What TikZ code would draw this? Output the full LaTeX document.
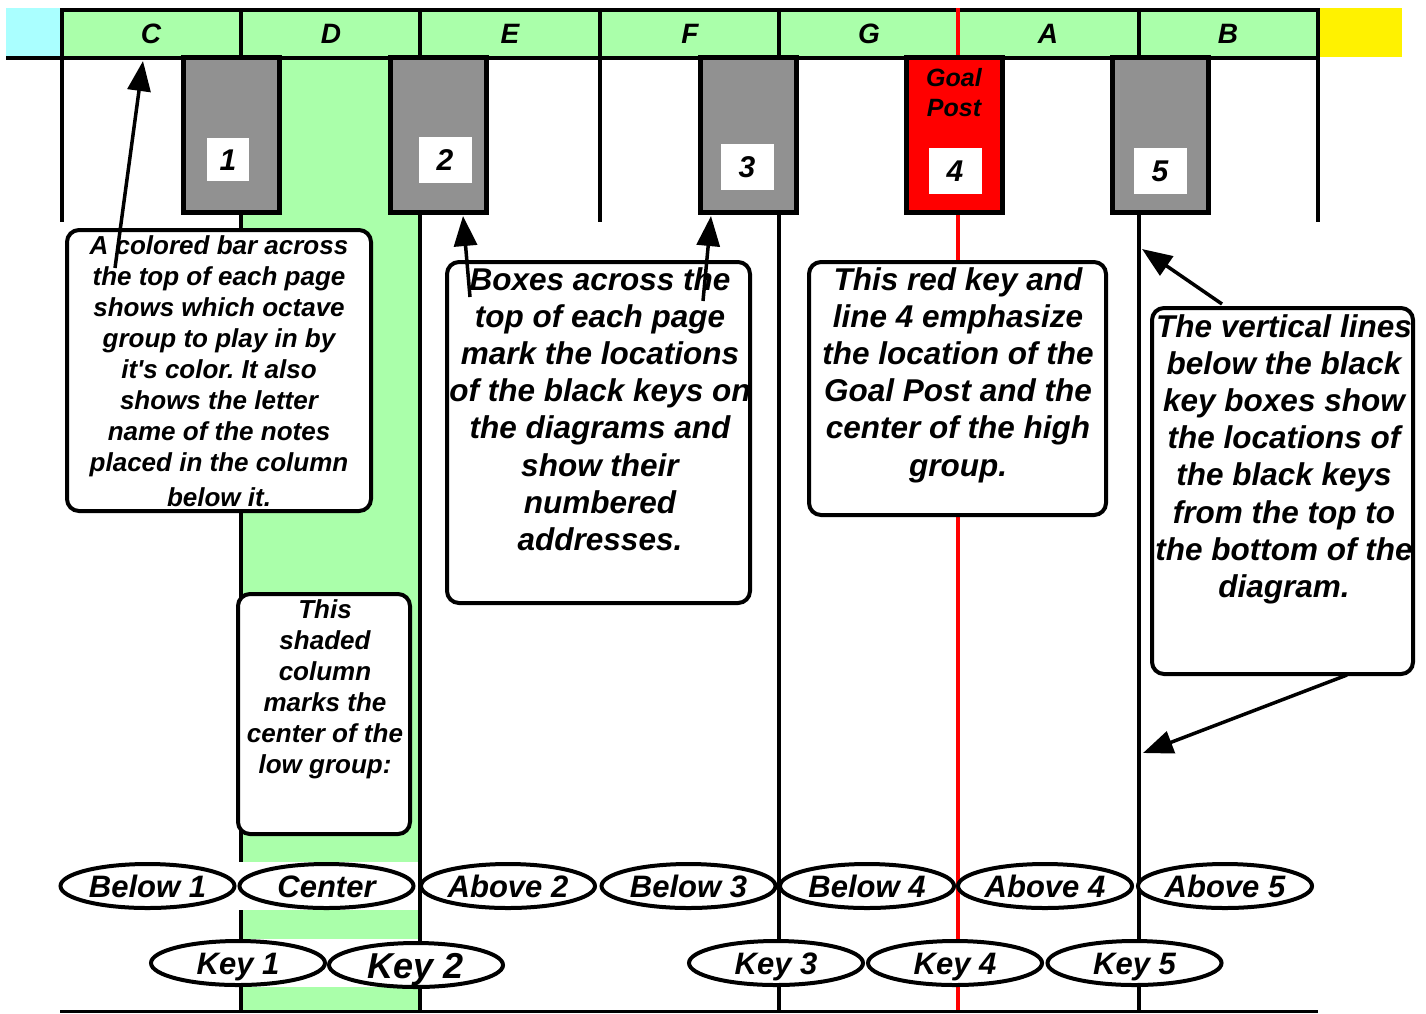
\documentclass[tikz,border=0pt]{standalone}
\usepackage{fontspec}
\setmainfont{Liberation Sans}
\usetikzlibrary{arrows.meta,shapes.geometric}
\definecolor{lgreen}{HTML}{AAFFAA}
\definecolor{lcyan}{HTML}{AAFFFF}
\definecolor{kgray}{HTML}{919191}
\frenchspacing
\begin{document}
\begin{tikzpicture}[x=1pt,y=-1pt,
  every node/.style={font=\bfseries\itshape},
  vline/.style={line width=4pt},
  hdr/.style={font=\fontsize{28}{32}\selectfont\bfseries\itshape, text height=20pt, text depth=0pt},
  keybox/.style={draw, line width=5pt, fill=kgray, minimum width=96pt, minimum height=155pt, inner sep=0pt},
  numbox/.style={fill=white, inner sep=0pt, text height=21.5pt, text depth=0pt, font=\fontsize{30}{34}\selectfont\bfseries\itshape},
  tbox/.style={draw, line width=4pt, fill=white, rounded corners=12pt, inner sep=0pt},
  smalltxt/.style={align=center, anchor=north, inner sep=0pt, font=\fontsize{26}{31}\selectfont\bfseries\itshape},
  bigtxt/.style={align=center, anchor=north, inner sep=0pt, font=\fontsize{31.5}{37.2}\selectfont\bfseries\itshape},
  ell/.style={ellipse, draw, line width=4pt, fill=white, minimum width=174pt, minimum height=44pt, inner sep=0pt, text height=22.3pt, text depth=0pt, font=\fontsize{31}{34}\selectfont\bfseries\itshape},
  arr/.style={line width=3.5pt, -{Triangle[length=30pt,width=23pt]}}
]
\useasboundingbox (0,0) rectangle (1426,1013);
% shaded column
\fill[lgreen] (241,58) rectangle (420,1011);
% header
\fill[lcyan] (6,8) rectangle (61,57);
\fill[yellow] (1320,8) rectangle (1402,57);
\draw[line width=4pt, fill=lgreen] (62,10) rectangle (1318,58);
\draw[line width=4pt] (6,58) -- (1318,58);
\node[hdr] (hc) at (151,33) {C};
\node[hdr] (hd) at (331,33) {D};
\node[hdr] (he) at (510,33) {E};
\node[hdr] (hf) at (690,33) {F};
\node[hdr] (hg) at (869,33) {G};
\node[hdr] (ha) at (1048,33) {A};
\node[hdr] (hb) at (1228,33) {B};
% vertical lines
\draw[vline] (62,8) -- (62,222);
\draw[vline] (241,8) -- (241,1011);
\draw[vline] (420,8) -- (420,1011);
\draw[vline] (600,8) -- (600,222);
\draw[vline] (779,8) -- (779,1011);
\draw[vline, red] (958,8) -- (958,1011);
\draw[vline] (1139,8) -- (1139,1011);
\draw[vline] (1318,8) -- (1318,222);
\draw[line width=3pt] (60,1011) -- (1318,1011);
% white strips behind ellipse rows in the shaded column
\fill[white] (238,862) rectangle (418,910);
\fill[white] (238,939) rectangle (418,987);
% key boxes
\node[keybox] (k1) at (231.5,135) {};
\node[keybox] (k2) at (438.5,135) {};
\node[keybox] (k3) at (748,135) {};
\node[keybox, fill=red] (k4) at (954,135) {};
\node[keybox] (k5) at (1160.5,135) {};
\node[numbox, minimum width=42pt, minimum height=43pt] (n1) at (228,159.5) {1};
\node[numbox, minimum width=53pt, minimum height=46pt] (n2) at (445,160) {2};
\node[numbox, minimum width=53pt, minimum height=46pt] (n3) at (747,167) {3};
\node[numbox, minimum width=53pt, minimum height=46pt] (n4) at (955,171) {4};
\node[numbox, minimum width=53pt, minimum height=46pt] (n5) at (1160,171) {5};
\node[align=center, inner sep=0pt, font=\fontsize{25}{30}\selectfont\bfseries\itshape] (gp) at (954,93) {Goal\\Post};
% text boxes
\node[tbox, minimum width=304pt, minimum height=281pt] (ta) at (219,370.5) {};
\node[smalltxt] (tat) at (219,235) {A colored bar across\\the top of each page\\shows which octave\\group to play in by\\it\textquotesingle s color. It also\\shows the letter\\name of the notes\\placed in the column\\[4pt]below it.};
\node[tbox, minimum width=303pt, minimum height=341pt] (tb) at (598.5,432.5) {};
\node[bigtxt] (tbt) at (600,267) {Boxes across the\\top of each page\\mark the locations\\of the black keys on\\the diagrams and\\show their\\numbered\\addresses.};
\node[tbox, minimum width=297pt, minimum height=253pt] (tc) at (957.5,388.5) {};
\node[bigtxt] (tct) at (958,267) {This red key and\\line 4 emphasize\\the location of the\\Goal Post and the\\center of the high\\group.};
\node[tbox, minimum width=261pt, minimum height=366pt] (td) at (1282.5,491) {};
\node[bigtxt] (tdt) at (1284,314) {The vertical lines\\below the black\\key boxes show\\the locations of\\the black keys\\from the top to\\the bottom of the\\diagram.};
\node[tbox, minimum width=172pt, minimum height=240pt] (te) at (324,714) {};
\node[smalltxt] (tet) at (325,599) {This\\shaded\\column\\marks the\\center of the\\low group:};
% arrows
\coordinate (s1) at (115,268);
\coordinate (e1) at (143,61);
\coordinate (s2) at (470,297);
\coordinate (e2) at (463,216);
\coordinate (s3) at (703,301);
\coordinate (e3) at (711,216);
\coordinate (s4) at (1222,304);
\coordinate (e4) at (1142,249);
\coordinate (s5) at (1347,675);
\coordinate (e5) at (1143,753);
\draw[arr] (s1) -- (e1);
\draw[arr] (s2) -- (e2);
\draw[arr] (s3) -- (e3);
\draw[arr] (s4) -- (e4);
\draw[arr] (s5) -- (e5);
% ellipses row 1
\node[ell] (eb1) at (147.5,886) {Below 1};
\node[ell] (ec) at (326.5,886) {Center};
\node[ell] (ea2) at (508,886) {Above 2};
\node[ell] (eb3) at (688.5,886) {Below 3};
\node[ell] (eb4) at (867,886) {Below 4};
\node[ell] (ea4) at (1045,886) {Above 4};
\node[ell] (ea5) at (1225,886) {Above 5};
% ellipses row 2
\node[ell] (ek1) at (238,963) {Key 1};
\node[ell, text height=26pt, font=\fontsize{36}{40}\selectfont\bfseries\itshape] (ek2) at (416,965) {Key 2};
\node[ell] (ek3) at (776,963) {Key 3};
\node[ell] (ek4) at (955,963) {Key 4};
\node[ell] (ek5) at (1134.5,963) {Key 5};
\end{tikzpicture}
\end{document}
